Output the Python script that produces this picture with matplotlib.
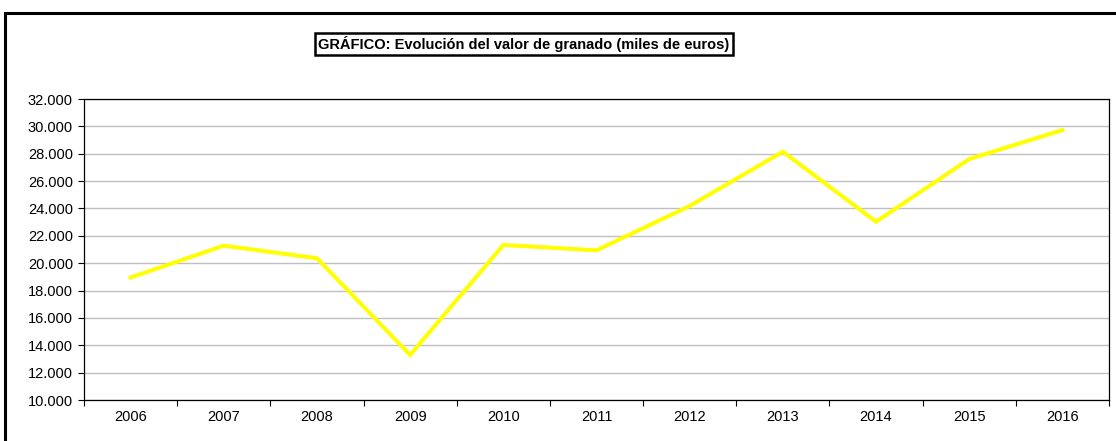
import matplotlib
matplotlib.use("Agg")
import matplotlib.pyplot as plt
from matplotlib.patches import Rectangle
from matplotlib.ticker import FuncFormatter, FixedLocator

years = ['2006', '2007', '2008', '2009', '2010', '2011', '2012', '2013', '2014', '2015', '2016']
valor = [18950, 21280, 20360, 13290, 21330, 20940, 24180, 28150, 23030, 27610, 29730]
title = 'GRÁFICO: Evolución del valor de granado (miles de euros)'

plt.rcParams['font.family'] = ['Liberation Sans', 'DejaVu Sans']

fig = plt.figure(figsize=(11.16, 4.41), dpi=100)
ax = fig.add_axes([84/1116, 1 - 400/441, (1109 - 84)/1116, (400 - 99)/441])

x = list(range(len(years)))
ax.plot(x, valor, color='#FFFF00', lw=2.9, solid_joinstyle='miter', zorder=3)

ax.set_xlim(-0.5, len(years) - 0.5)
ax.set_ylim(10000, 32000)
ax.set_yticks(range(10000, 32001, 2000))
ax.yaxis.set_major_formatter(FuncFormatter(lambda v, p: f'{int(v):,}'.replace(',', '.')))

# ticks between categories, labels at centres
ax.xaxis.set_major_locator(FixedLocator([i - 0.5 for i in range(len(years) + 1)]))
ax.xaxis.set_minor_locator(FixedLocator(x))
ax.set_xticklabels([], minor=False)
ax.set_xticklabels(years, minor=True)
ax.tick_params(axis='x', which='minor', length=0, pad=7, labelsize=10.5)
ax.tick_params(axis='x', which='major', length=4, width=0.8, direction='out')
ax.tick_params(axis='y', length=4, width=0.8, direction='out', labelsize=10.5, pad=4)

ax.grid(axis='y', color='#c0c0c0', lw=1)
ax.set_axisbelow(True)
for s in ax.spines.values():
    s.set_color('black')
    s.set_linewidth(0.9)

fig.text(524/1116, 1 - 44/441, title, ha='center', va='center', fontsize=10.5,
         fontweight='bold',
         bbox=dict(boxstyle='square,pad=0.22', fc='white', ec='black', lw=1.8))

# outer frame of the chart area
fig.patches.append(Rectangle((5/1116, -0.1), 1.2, 1 - 13/441 + 0.1, transform=fig.transFigure,
                             fill=False, ec='black', lw=2.2))

fig.savefig('out.png', dpi=100)
